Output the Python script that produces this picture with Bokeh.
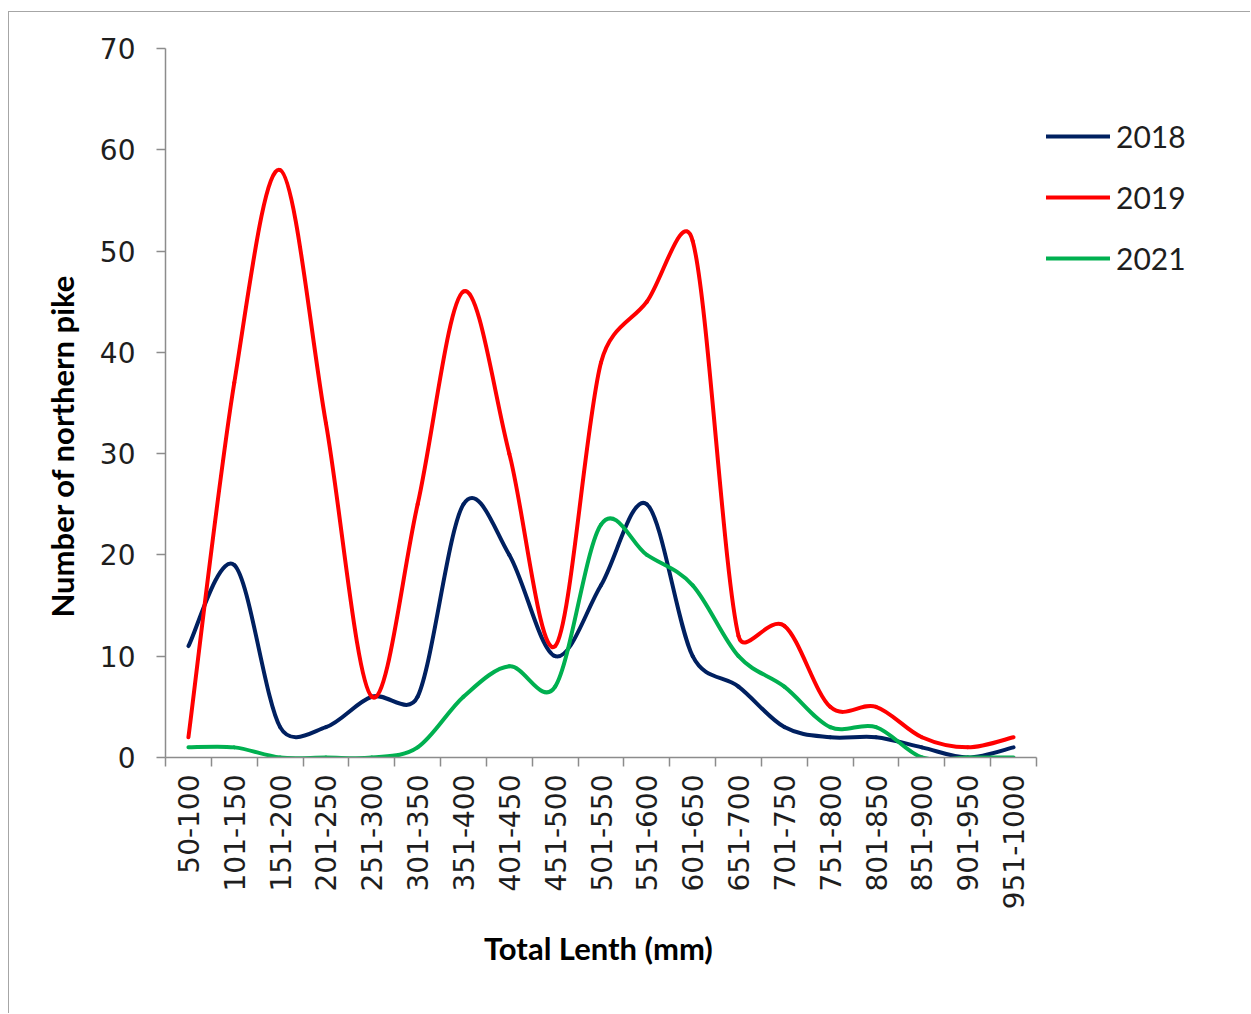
import numpy as np
from bokeh.plotting import figure
from bokeh.models import (ColumnDataSource, Range1d, LinearAxis, FixedTicker,
                          Legend, LegendItem, Title)
from bokeh.embed import file_html
from bokeh.resources import INLINE

# Length classes (mm) and counts of northern pike per class
length_classes = ["50-100", "101-150", "151-200", "201-250", "251-300",
                  "301-350", "351-400", "401-450", "451-500", "501-550",
                  "551-600", "601-650", "651-700", "701-750", "751-800",
                  "801-850", "851-900", "901-950", "951-1000"]
pike_2018 = [11, 19, 3, 3, 6, 6, 25, 20, 10, 17, 25, 10, 7, 3, 2, 2, 1, 0, 1]
pike_2019 = [2, 37, 58, 33, 6, 25, 46, 30, 11, 39, 45, 51, 12, 13, 5, 5, 2, 1, 2]
pike_2021 = [1, 1, 0, 0, 0, 1, 6, 9, 7, 23, 20, 17, 10, 7, 3, 3, 0, 0, 0]
years = ["2018", "2019", "2021"]
colors = ["#002060", "#FF0000", "#00B050"]

Y_MAX = 70
N = len(length_classes)
# each class occupies two x units: boundaries on even numbers, centres on odd
X_MAX = 2 * N

W, H = 1242, 1002
LEFT, TOP, BOTTOM = 156, 36, 257
AXIS_W = 871                      # width of the category axis in pixels
FRAME_W = W - LEFT                # plotting area runs on to the right edge (room for legend)
FRAME_H = H - TOP - BOTTOM
SX = AXIS_W / X_MAX
SY = FRAME_H / Y_MAX
X_END = FRAME_W / SX


def smooth_segments(values):
    """Cubic Bezier pieces through the points (spreadsheet-style smoothed line)."""
    xs = np.arange(len(values)) * 2 + 1.0
    ys = np.asarray(values, dtype=float)
    pts = np.column_stack([xs * SX, ys * SY])
    n = len(pts)
    out = {k: [] for k in ("x0", "y0", "x1", "y1", "cx0", "cy0", "cx1", "cy1")}
    for i in range(n - 1):
        p0 = pts[i - 1] if i > 0 else pts[i]
        p1 = pts[i]
        p2 = pts[i + 1]
        p3 = pts[i + 2] if i + 2 < n else pts[i + 1]
        d12 = np.linalg.norm(p2 - p1)
        t1 = (p2 - p0) / 6.0
        t2 = (p3 - p1) / 6.0
        for t in (t1, t2):
            nt = np.linalg.norm(t)
            if nt > d12 / 2 and nt > 0:
                t *= (d12 / 2) / nt
        c1 = p1 + t1
        c2 = p2 - t2
        out["x0"].append(p1[0] / SX); out["y0"].append(p1[1] / SY)
        out["x1"].append(p2[0] / SX); out["y1"].append(p2[1] / SY)
        out["cx0"].append(c1[0] / SX); out["cy0"].append(c1[1] / SY)
        out["cx1"].append(c2[0] / SX); out["cy1"].append(c2[1] / SY)
    return out


p = figure(width=W, height=H, output_backend="svg", toolbar_location=None,
           x_range=Range1d(0, X_END), y_range=Range1d(0, Y_MAX),
           x_axis_location=None, y_axis_location=None,
           min_border_left=LEFT, min_border_top=TOP,
           min_border_right=0, min_border_bottom=BOTTOM,
           outline_line_color=None, background_fill_color="white",
           border_fill_color="white")
p.xgrid.visible = False
p.ygrid.visible = False
p.styles = {"margin-left": "8px", "margin-top": "11px",
            "border-left": "1px solid #a6a6a6", "border-top": "1px solid #a6a6a6"}

AXIS_GRAY = "#8c8c8c"
TEXT = "#1e1e1e"
TICK_FONT = "28px"
TITLE_FONT = "31px"

yaxis = LinearAxis(ticker=FixedTicker(ticks=list(range(0, Y_MAX + 1, 10))))
yaxis.axis_line_color = AXIS_GRAY
yaxis.axis_line_width = 1.5
yaxis.major_tick_line_color = AXIS_GRAY
yaxis.major_tick_line_width = 1.5
yaxis.major_tick_in = 0
yaxis.major_tick_out = 9
yaxis.minor_tick_line_color = None
yaxis.major_label_standoff = 21
yaxis.major_label_text_font = "DejaVu Sans"
yaxis.major_label_text_font_size = TICK_FONT
yaxis.major_label_text_color = TEXT
p.add_layout(yaxis, "left")

# y-axis title, starting a little above the bottom of the axis
p.add_layout(Title(text="Number of northern pike", align="left", offset=140,
                   standoff=31, text_font="Lato", text_font_style="bold",
                   text_font_size=TITLE_FONT, text_color="#000000"), "left")

# class boundaries carry the tick marks
xticks = LinearAxis(ticker=FixedTicker(ticks=list(range(0, X_MAX + 1, 2))),
                    bounds=(0, X_MAX))
xticks.axis_line_color = AXIS_GRAY
xticks.axis_line_width = 1.5
xticks.major_tick_line_color = AXIS_GRAY
xticks.major_tick_line_width = 1.5
xticks.major_tick_in = 0
xticks.major_tick_out = 9
xticks.minor_tick_line_color = None
xticks.major_label_text_font_size = "0px"
xticks.major_label_standoff = 0
xticks.major_label_overrides = {t: "" for t in range(0, X_MAX + 1, 2)}
p.add_layout(xticks, "below")

# class names at the centres; title centred under the category axis
centres = [2 * i + 1 for i in range(N)]
xlabels = LinearAxis(ticker=FixedTicker(ticks=centres))
xlabels.axis_line_color = None
xlabels.major_tick_line_color = None
xlabels.minor_tick_line_color = None
xlabels.major_label_overrides = {c: name for c, name in zip(centres, length_classes)}
xlabels.major_label_orientation = np.pi / 2
xlabels.major_label_standoff = 2
xlabels.major_label_text_font = "DejaVu Sans"
xlabels.major_label_text_font_size = TICK_FONT
xlabels.major_label_text_color = TEXT
p.add_layout(xlabels, "below")

p.add_layout(Title(text="Total Lenth (mm)", align="left",
                   offset=AXIS_W / 2 - 117, standoff=29,
                   text_font="Lato", text_font_style="bold",
                   text_font_size=TITLE_FONT, text_color="#000000"), "below")

items = []
for year, counts, color in zip(years, [pike_2018, pike_2019, pike_2021], colors):
    src = ColumnDataSource(smooth_segments(counts))
    r = p.bezier(x0="x0", y0="y0", x1="x1", y1="y1", cx0="cx0", cy0="cy0",
                 cx1="cx1", cy1="cy1", source=src, line_color=color,
                 line_width=4, line_cap="round")
    items.append(LegendItem(label=year, renderers=[r]))

# legend right of the category axis; offsets of its lower-left corner
ITEM_H, SPACING = 36, 25
LEGEND_H = len(items) * ITEM_H + (len(items) - 1) * SPACING
legend = Legend(items=items, location=(AXIS_W + 10, FRAME_H - 70 - LEGEND_H),
                glyph_width=64, glyph_height=ITEM_H, label_height=ITEM_H,
                label_standoff=6, spacing=SPACING, padding=0, margin=0,
                border_line_color=None, background_fill_alpha=0,
                label_text_font="Lato", label_text_font_size="30px",
                label_text_color=TEXT)
p.add_layout(legend)

open("out.html", "w").write(file_html(p, INLINE))
